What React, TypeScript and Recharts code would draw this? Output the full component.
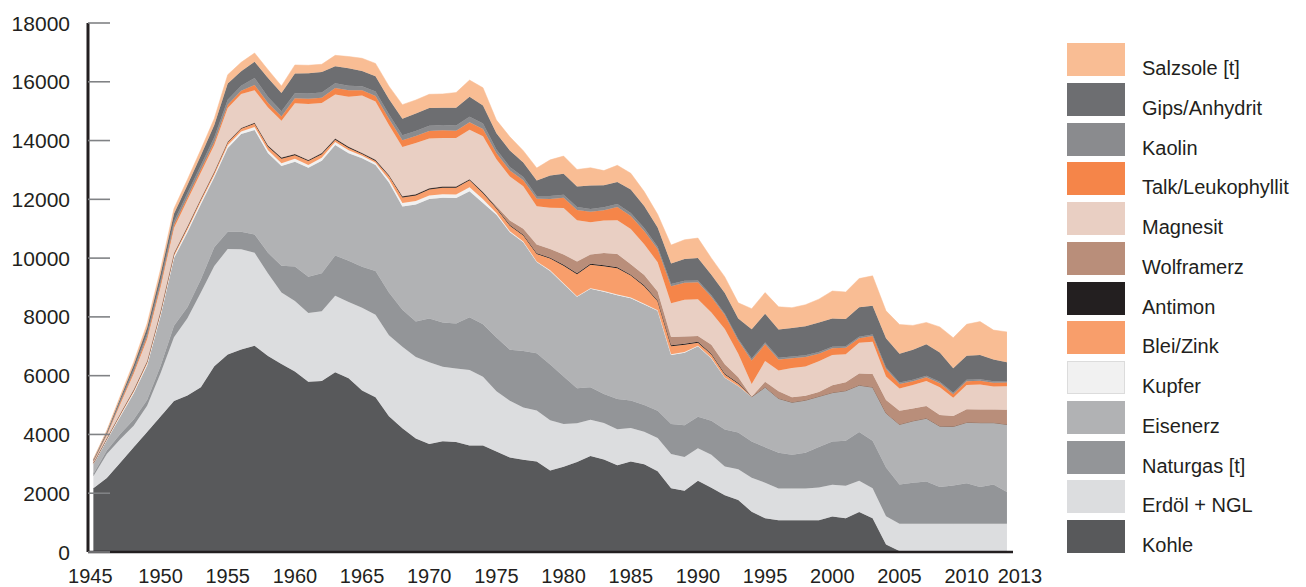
import React from 'react';
import { AreaChart, Area, XAxis, YAxis } from 'recharts';

// Förderung mineralischer Rohstoffe, 1945–2013
const YEARS = [
  1945, 1946, 1947, 1948, 1949, 1950, 1951, 1952, 1953, 1954,
  1955, 1956, 1957, 1958, 1959, 1960, 1961, 1962, 1963, 1964,
  1965, 1966, 1967, 1968, 1969, 1970, 1971, 1972, 1973, 1974,
  1975, 1976, 1977, 1978, 1979, 1980, 1981, 1982, 1983, 1984,
  1985, 1986, 1987, 1988, 1989, 1990, 1991, 1992, 1993, 1994,
  1995, 1996, 1997, 1998, 1999, 2000, 2001, 2002, 2003, 2004,
  2005, 2006, 2007, 2008, 2009, 2010, 2011, 2012, 2013,
];

const KOHLE = [
  2165, 2515, 3035, 3562, 4083, 4610, 5136, 5324, 5604, 6320,
  6720, 6891, 7020, 6669, 6400, 6143, 5792, 5815, 6119, 5909,
  5499, 5265, 4622, 4212, 3861, 3674, 3767, 3744, 3627, 3627,
  3416, 3218, 3136, 3077, 2773, 2902, 3065, 3264, 3147, 2948,
  3077, 2984, 2750, 2165, 2083, 2422, 2188, 1931, 1767, 1370,
  1147, 1083, 1083, 1083, 1083, 1211, 1147, 1364, 1147, 255,
  30, 0, 0, 0, 0, 0, 0, 0, 0,
];

const ERDOEL = [
  410, 820, 800, 730, 890, 1470, 2170, 2630, 3230, 3410,
  3590, 3410, 3160, 2810, 2430, 2400, 2340, 2380, 2600, 2600,
  2810, 2810, 2750, 2770, 2770, 2780, 2540, 2500, 2570, 2340,
  2050, 1930, 1780, 1740, 1710, 1450, 1320, 1240, 1240, 1230,
  1140, 1110, 1130, 1170, 1150, 1110, 1120, 980, 1050, 1160,
  1210, 1080, 1080, 1080, 1110, 1080, 1110, 1060, 1020, 960,
  930, 960, 960, 960, 960, 960, 960, 960, 960,
];

const NATURGAS = [
  80, 120, 180, 220, 200, 250, 390, 370, 440, 640,
  590, 600, 620, 700, 910, 1170, 1230, 1290, 1370, 1400,
  1400, 1490, 1460, 1260, 1210, 1490, 1500, 1530, 1790, 1780,
  1830, 1730, 1920, 1950, 1900, 1620, 1190, 1100, 990, 1030,
  940, 910, 930, 1020, 1080, 1070, 1160, 1260, 1250, 1230,
  1210, 1210, 1150, 1210, 1380, 1470, 1530, 1660, 1620, 1660,
  1340, 1400, 1440, 1250, 1300, 1380, 1250, 1340, 1080,
];

const EISENERZ = [
  330, 350, 590, 880, 1170, 1700, 2300, 2560, 2560, 2380,
  2850, 3320, 3560, 3390, 3390, 3570, 3710, 3830, 3760, 3660,
  3690, 3600, 3740, 3510, 3980, 4070, 4250, 4270, 4290, 4130,
  4180, 4000, 3700, 3100, 3180, 3150, 3110, 3350, 3480, 3530,
  3480, 3420, 3400, 2350, 2470, 2400, 2120, 1760, 1580, 1520,
  2040, 1850, 1780, 1790, 1720, 1660, 1700, 1590, 1820, 1850,
  2040, 2100, 2150, 2070, 2010, 2070, 2190, 2100, 2300,
];

const KUPFER = [
  15, 25, 40, 50, 60, 70, 70, 80, 80, 80,
  90, 90, 100, 100, 100, 100, 100, 100, 100, 100,
  80, 80, 100, 120, 120, 120, 120, 120, 130, 130,
  60, 40, 30, 20, 20, 20, 20, 20, 20, 20,
  20, 20, 20, 20, 20, 20, 10, 10, 0, 0,
  0, 0, 0, 0, 0, 0, 0, 0, 0, 0,
  0, 0, 0, 0, 0, 0, 0, 0, 0,
];

const BLEI_ZINK = [
  15, 25, 40, 50, 60, 70, 70, 80, 80, 80,
  90, 90, 110, 120, 150, 120, 130, 120, 80, 80,
  60, 60, 120, 190, 190, 200, 220, 230, 240, 200,
  150, 180, 200, 250, 400, 600, 750, 800, 850, 900,
  750, 600, 300, 280, 250, 100, 120, 100, 80, 0,
  0, 0, 0, 0, 0, 0, 0, 0, 0, 0,
  0, 0, 0, 0, 0, 0, 0, 0, 0,
];

const ANTIMON = [
  10, 15, 20, 25, 30, 30, 30, 30, 30, 30,
  30, 30, 40, 40, 40, 40, 40, 40, 40, 40,
  40, 40, 40, 40, 40, 40, 40, 40, 40, 40,
  30, 30, 30, 30, 30, 30, 30, 30, 30, 30,
  30, 30, 30, 30, 30, 30, 30, 20, 20, 0,
  0, 0, 0, 0, 0, 0, 0, 0, 0, 0,
  0, 0, 0, 0, 0, 0, 0, 0, 0,
];

const WOLFRAMERZ = [
  0, 0, 0, 0, 0, 0, 0, 0, 0, 0,
  0, 0, 0, 0, 0, 0, 0, 0, 0, 0,
  0, 0, 0, 0, 0, 0, 0, 0, 0, 0,
  50, 150, 200, 300, 300, 350, 400, 320, 420, 450,
  350, 350, 300, 280, 250, 200, 300, 330, 200, 0,
  190, 250, 170, 150, 150, 250, 290, 400, 450, 450,
  470, 420, 420, 380, 360, 450, 450, 450, 500,
];

const MAGNESIT = [
  50, 110, 330, 550, 750, 820, 860, 900, 890, 910,
  1150, 1150, 1100, 1300, 1250, 1730, 1900, 1700, 1500, 1700,
  1950, 1980, 1700, 1680, 1750, 1700, 1650, 1650, 1680, 1900,
  1600, 1500, 1450, 1300, 1400, 1580, 1400, 1100, 1100, 1150,
  1200, 1050, 1000, 1150, 1250, 1250, 1100, 1200, 800, 440,
  700, 700, 1000, 1000, 1050, 1030, 950, 1050, 1100, 800,
  750, 800, 850, 950, 620, 820, 850, 780, 800,
];

const TALK = [
  15, 25, 50, 70, 90, 100, 100, 100, 100, 100,
  110, 110, 180, 150, 150, 170, 180, 180, 220, 220,
  180, 190, 210, 230, 230, 250, 260, 250, 260, 250,
  200, 200, 200, 250, 300, 350, 350, 350, 350, 450,
  450, 450, 450, 580, 580, 580, 530, 470, 450, 800,
  570, 380, 330, 320, 250, 230, 220, 150, 190, 250,
  160, 130, 130, 130, 120, 130, 130, 130, 130,
];

const KAOLIN = [
  20, 35, 60, 80, 110, 120, 130, 140, 150, 160,
  170, 170, 240, 200, 180, 170, 180, 180, 160, 160,
  140, 150, 150, 170, 170, 180, 180, 180, 180, 180,
  130, 120, 110, 100, 100, 100, 100, 100, 100, 100,
  100, 100, 80, 70, 70, 60, 60, 50, 50, 60,
  60, 60, 60, 60, 60, 50, 50, 50, 50, 50,
  50, 50, 50, 50, 50, 50, 50, 50, 50,
];

const GIPS = [
  30, 55, 90, 140, 190, 220, 250, 270, 330, 420,
  550, 500, 550, 650, 620, 670, 690, 700, 580, 590,
  520, 520, 520, 560, 600, 600, 590, 600, 680, 620,
  550, 560, 500, 520, 700, 720, 700, 800, 750, 750,
  800, 750, 650, 700, 740, 760, 700, 700, 700, 1000,
  980, 960, 970, 990, 1010, 960, 930, 1000, 980, 1000,
  980, 1020, 1070, 1000, 830, 820, 820, 740, 640,
];

const SALZSOLE = [
  20, 40, 70, 100, 140, 160, 180, 190, 200, 220,
  300, 300, 300, 280, 240, 290, 270, 260, 370, 400,
  430, 440, 440, 480, 460, 470, 470, 520, 570, 600,
  450, 470, 400, 430, 530, 600, 580, 600, 500, 570,
  550, 490, 450, 630, 650, 680, 560, 550, 530, 700,
  720, 770, 690, 730, 790, 940, 920, 980, 1020, 930,
  990, 830, 740, 870, 1040, 1070, 1140, 1000, 1030,
];

// von unten nach oben gestapelt
const SERIES = [
  { key: 'kohle', name: 'Kohle', color: '#58595b', values: KOHLE },
  { key: 'erdoel', name: 'Erdöl + NGL', color: '#dcdddf', values: ERDOEL },
  { key: 'naturgas', name: 'Naturgas [t]', color: '#939598', values: NATURGAS },
  { key: 'eisenerz', name: 'Eisenerz', color: '#b1b2b4', values: EISENERZ },
  { key: 'kupfer', name: 'Kupfer', color: '#f1f1f1', values: KUPFER },
  { key: 'blei', name: 'Blei/Zink', color: '#f89e6b', values: BLEI_ZINK },
  { key: 'antimon', name: 'Antimon', color: '#231f20', values: ANTIMON },
  { key: 'wolfram', name: 'Wolframerz', color: '#b98e7a', values: WOLFRAMERZ },
  { key: 'magnesit', name: 'Magnesit', color: '#e9cfc3', values: MAGNESIT },
  { key: 'talk', name: 'Talk/Leukophyllit', color: '#f58549', values: TALK },
  { key: 'kaolin', name: 'Kaolin', color: '#8a8b8e', values: KAOLIN },
  { key: 'gips', name: 'Gips/Anhydrit', color: '#6d6e71', values: GIPS },
  { key: 'salzsole', name: 'Salzsole [t]', color: '#f9bd94', values: SALZSOLE },
];

const X_TICKS = [1945, 1950, 1955, 1960, 1965, 1970, 1975, 1980, 1985, 1990, 1995, 2000, 2005, 2010, 2013];
const Y_TICKS = [0, 2000, 4000, 6000, 8000, 10000, 12000, 14000, 16000, 18000];

const data = YEARS.map((year, i) => {
  const row: Record<string, number> = { year };
  SERIES.forEach((s) => {
    row[s.key] = s.values[i];
  });
  return row;
});

const FONT = '"Liberation Sans", Arial, Helvetica, sans-serif';
const TEXT = '#231f20';

const XTick = (props: any) => {
  const { x, y, payload } = props;
  let shift = 0;
  if (payload.value === 1945) shift = -3;
  if (payload.value === 2013) shift = 13;
  return (
    <text x={x + shift} y={y + 24} textAnchor="middle" dominantBaseline="central"
      fontSize={20} fill={TEXT} fontFamily={FONT}>
      {payload.value}
    </text>
  );
};

const YTick = (props: any) => {
  const { x, y, payload } = props;
  return (
    <g>
      <line x1={x} x2={x + 22} y1={y} y2={y} stroke="#808285" strokeWidth={1.6} />
      <text x={x - 18} y={y} textAnchor="end" dominantBaseline="central"
        fontSize={21} fill={TEXT} fontFamily={FONT}>
        {payload.value}
      </text>
    </g>
  );
};

export default function App() {
  const legendItems = [...SERIES].reverse();
  return (
    <div style={{ position: 'absolute', left: 0, top: 0, width: 1306, height: 587, background: '#fff', fontFamily: FONT }}>
      <AreaChart width={1306} height={587} data={data}
        margin={{ top: 23, right: 293, bottom: 0, left: 0 }}>
        <XAxis dataKey="year" type="number" domain={[1944.6, 2013.45]} ticks={X_TICKS}
          allowDataOverflow interval={0} height={35} tickSize={0} tickMargin={0}
          axisLine={{ stroke: TEXT, strokeWidth: 2.5 }} tickLine={false} tick={<XTick />} />
        <YAxis domain={[0, 18000]} ticks={Y_TICKS} interval={0} width={88}
          tickSize={0} tickMargin={0} axisLine={{ stroke: TEXT, strokeWidth: 3 }}
          tickLine={false} tick={<YTick />} />
        {SERIES.map((s) => (
          <Area key={s.key} type="linear" dataKey={s.key} name={s.name} stackId="1"
            fill={s.color} fillOpacity={1} stroke={s.color} strokeWidth={0.5}
            dot={false} activeDot={false} isAnimationActive={false} />
        ))}
      </AreaChart>

      {legendItems.map((s, i) => (
        <div key={s.key} style={{ position: 'absolute', left: 1067, top: 43 + i * 39.75, height: 33 }}>
          <div style={{
            position: 'absolute', left: 0, top: 0, width: 58, height: 33, background: s.color,
            boxSizing: 'border-box', border: s.key === 'kupfer' ? '1px solid #dcdcdc' : 'none',
          }} />
          <div style={{
            position: 'absolute', left: 75, top: 13, lineHeight: '24px', fontSize: 20,
            color: TEXT, whiteSpace: 'nowrap',
          }}>
            {s.name}
          </div>
        </div>
      ))}
    </div>
  );
}
